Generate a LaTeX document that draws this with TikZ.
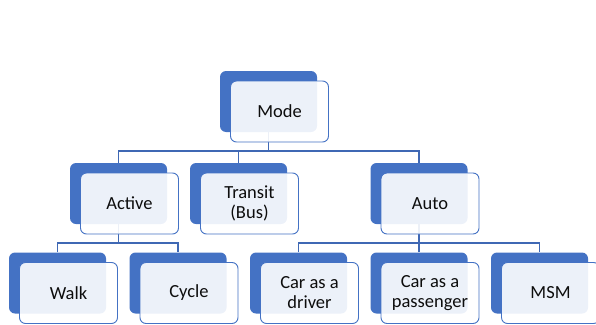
\documentclass[tikz,border=0pt]{standalone}
\usepackage{fontspec}
\setmainfont{Carlito}
\usetikzlibrary{calc}
\definecolor{accent}{HTML}{4472C4}
\definecolor{linkc}{HTML}{3F68B4}
\begin{document}
\begin{tikzpicture}[x=1pt,y=-1pt,
  back/.style={draw=none,fill=accent,rounded corners=6pt,minimum width=97pt,minimum height=61pt,inner sep=0pt},
  front/.style={draw=accent,line width=0.9pt,fill=white,fill opacity=0.9,text opacity=1,rounded corners=6pt,minimum width=98pt,minimum height=61pt,inner sep=0pt,align=center,font=\fontsize{18.5}{20}\selectfont,text=black!95},
  link/.style={draw=linkc,line width=1.2pt}]
\useasboundingbox (0,0) rectangle (596,324);
% back shapes
\node[back] (modeB) at (268.5,101.5) {};
\node[back] (activeB) at (118.5,193.5) {};
\node[back] (transitB) at (238.5,193.5) {};
\node[back] (autoB) at (419,193.5) {};
\node[back] (walkB) at (57.5,283) {};
\node[back] (cycleB) at (178,283) {};
\node[back] (driverB) at (298.5,283) {};
\node[back] (passB) at (419,283) {};
\node[back] (msmB) at (539.5,283) {};
% bus levels
\coordinate (bus1) at (0,151);
\coordinate (bus2) at (0,243);
% connectors
\draw[link] (modeB.south) -- (modeB.south |- bus1);
\draw[link] (activeB.north) |- (modeB.south |- bus1) -| (autoB.north);
\draw[link] (transitB.north) -- (transitB.north |- bus1);
\draw[link] (activeB.south) -- (activeB.south |- bus2);
\draw[link] (walkB.north) |- (activeB.south |- bus2) -| (cycleB.north);
\draw[link] (autoB.south) -- (autoB.south |- bus2);
\draw[link] (driverB.north) |- (autoB.south |- bus2) -| (msmB.north);
\draw[link] (passB.north) -- (passB.north |- bus2);
% front shapes
\node[front] (mode) at ($(modeB)+(11,10)$) {Mode};
\node[front] (active) at ($(activeB)+(11,10)$) {Active};
\node[front] (transit) at ($(transitB)+(11,10)$) {Transit\\(Bus)};
\node[front] (auto) at ($(autoB)+(11,10)$) {Auto};
\node[front] (walk) at ($(walkB)+(11,10)$) {Walk};
\node[front] (cycle) at ($(cycleB)+(11,10)$) {Cycle};
\node[front] (driver) at ($(driverB)+(11,10)$) {Car as a\\driver};
\node[front] (pass) at ($(passB)+(11,10)$) {Car as a\\passenger};
\node[front] (msm) at ($(msmB)+(11,10)$) {MSM};
\end{tikzpicture}
\end{document}
